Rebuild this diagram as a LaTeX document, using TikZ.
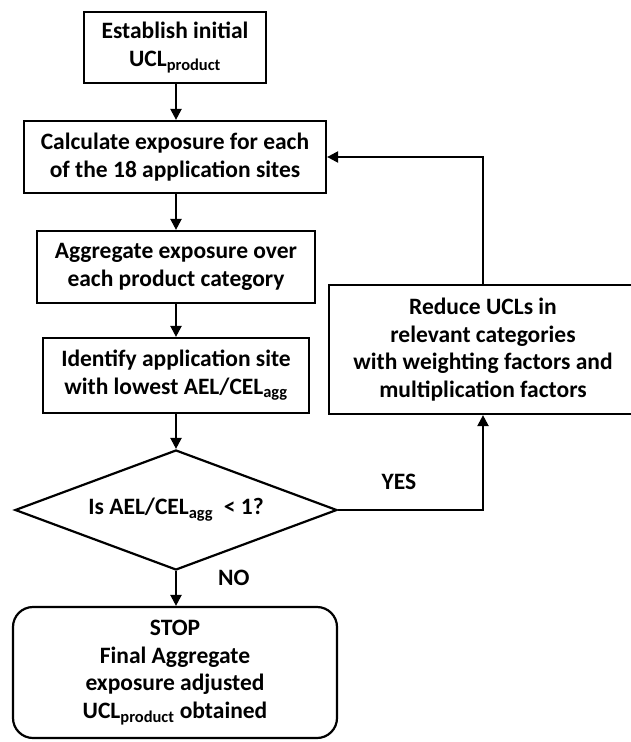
\documentclass[tikz,border=0pt]{standalone}
\usepackage{fontspec}
\setmainfont{Carlito}
\usetikzlibrary{arrows.meta,positioning,shapes.geometric}

\begin{document}
\begin{tikzpicture}[
  x=1bp, y=-1bp,
  font=\fontsize{23.5bp}{27.5bp}\selectfont\bfseries,
  >={Triangle[length=11bp,width=11bp]},
  stepbox/.style={
    draw,
    line width=2.2bp,
    inner sep=2bp,
    align=center
  },
  decision/.style={
    draw,
    diamond,
    line width=2.2bp,
    inner sep=0pt,
    aspect=2.7,
    minimum width=322bp,
    minimum height=120bp,
    align=center
  },
  flow/.style={->, line width=2.2bp},
  tag/.style={inner sep=0pt}
]

  \useasboundingbox (0,0) rectangle (631,742);

  % Main chain
  \node[stepbox, minimum width=182bp, minimum height=71bp] (init) at (175, 47.5) {
    Establish initial\\
    UCL\textsubscript{product}
  };

  \node[stepbox, minimum width=302bp, minimum height=72bp] (calc) at (175, 157) {
    Calculate exposure for each\\
    of the 18 application sites
  };

  \node[stepbox, minimum width=278bp, minimum height=72bp] (agg) at (176, 267) {
    Aggregate exposure over\\
    each product category
  };

  \node[stepbox, minimum width=266bp, minimum height=75bp] (ident) at (176, 375.5) {
    Identify application site\\
    with lowest AEL/CEL\textsubscript{agg}
  };

  \node[decision] (test) at (176, 510) {Is AEL/CEL\textsubscript{agg}\ \ < 1?};

  \node[stepbox, rounded corners=20bp, minimum width=324bp, minimum height=131bp] (stop) at (175, 672.5) {
    STOP\\
    Final Aggregate\\
    exposure adjusted\\
    UCL\textsubscript{product} obtained
  };

  % Feedback branch
  \node[stepbox, minimum width=308bp, minimum height=129bp] (reduce) at (483, 349.5) {
    Reduce UCLs in\\
    relevant categories\\
    with weighting factors and\\
    multiplication factors
  };

  % Arrows
  \draw[flow] (init.south -| agg.north) -- (agg.north |- calc.north);
  \draw[flow] (calc.south -| agg.north) -- (agg.north);
  \draw[flow] (agg.south) -- (ident.north);
  \draw[flow] (ident.south) -- (test.north);
  \draw[flow] (test.south) -- (test.south |- stop.north)
    node[tag, pos=0.2, right=41bp] {NO};
  \draw[flow] (test.east) -| (reduce.south)
    node[tag, pos=0.21, above=19bp] {YES};
  \draw[flow] (reduce.north) |- (calc.east);

\end{tikzpicture}
\end{document}
